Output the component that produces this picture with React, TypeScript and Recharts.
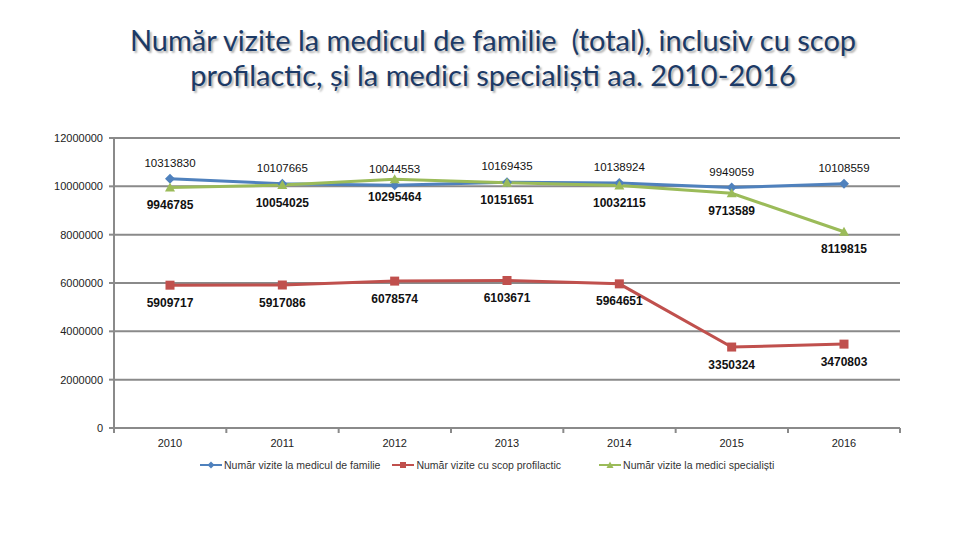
import React from 'react';
import { LineChart, Line, XAxis, YAxis, CartesianGrid, LabelList } from 'recharts';

const years = ['2010', '2011', '2012', '2013', '2014', '2015', '2016'];
const familyVisits = [10313830, 10107665, 10044553, 10169435, 10138924, 9949059, 10108559];
const preventiveVisits = [5909717, 5917086, 6078574, 6103671, 5964651, 3350324, 3470803];
const specialistVisits = [9946785, 10054025, 10295464, 10151651, 10032115, 9713589, 8119815];
const yTicks = [0, 2000000, 4000000, 6000000, 8000000, 10000000, 12000000];

const seriesNames = [
  'Număr vizite la medicul de familie',
  'Număr vizite cu scop profilactic',
  'Număr vizite la medici specialiști',
];

const colors = { blue: '#4f81bd', red: '#c0504d', green: '#9bbb59', grid: '#8a8a8a' };
const font = '"Liberation Sans", Arial, sans-serif';

const data = years.map((year, i) => ({
  year,
  family: familyVisits[i],
  preventive: preventiveVisits[i],
  specialist: specialistVisits[i],
}));

const HALF_BAND = 56;

const XTick = (props: any) => {
  const { x, y, payload, index } = props;
  const last = index === years.length - 1;
  return (
    <g>
      <line x1={x - HALF_BAND} x2={x - HALF_BAND} y1={y - 11} y2={y - 6} stroke={colors.grid} strokeWidth={2} />
      {last && <line x1={x + HALF_BAND} x2={x + HALF_BAND} y1={y - 11} y2={y - 6} stroke={colors.grid} strokeWidth={2} />}
      <text x={x} y={y} dy="0.71em" textAnchor="middle" fontSize={11} fontFamily={font} fill="#222">
        {payload.value}
      </text>
    </g>
  );
};

const Diamond = (props: any) => {
  const { cx, cy } = props;
  if (cx == null || cy == null) return null;
  return <path d={`M${cx},${cy - 5}L${cx + 5},${cy}L${cx},${cy + 5}L${cx - 5},${cy}Z`} fill={colors.blue} />;
};

const Square = (props: any) => {
  const { cx, cy } = props;
  if (cx == null || cy == null) return null;
  return <rect x={cx - 4.5} y={cy - 4.5} width={9} height={9} fill={colors.red} />;
};

const Triangle = (props: any) => {
  const { cx, cy } = props;
  if (cx == null || cy == null) return null;
  return <path d={`M${cx},${cy - 5}L${cx + 5},${cy + 4}L${cx - 5},${cy + 4}Z`} fill={colors.green} />;
};

const LegendIcon = ({ color, shape }: { color: string; shape: string }) => (
  <svg width={22} height={10} style={{ marginRight: 2 }}>
    <line x1={0} x2={22} y1={5} y2={5} stroke={color} strokeWidth={2} />
    {shape === 'diamond' && <path d="M11,1.5L14.5,5L11,8.5L7.5,5Z" fill={color} />}
    {shape === 'square' && <rect x={8} y={2} width={6} height={6} fill={color} />}
    {shape === 'triangle' && <path d="M11,1.5L14.5,8L7.5,8Z" fill={color} />}
  </svg>
);

const legendItems = [
  { name: seriesNames[0], color: colors.blue, shape: 'diamond' },
  { name: seriesNames[1], color: colors.red, shape: 'square' },
  { name: seriesNames[2], color: colors.green, shape: 'triangle' },
];

const App: React.FC = () => (
  <div style={{ position: 'absolute', left: 0, top: 0, width: 960, height: 540, background: '#fff' }}>
    <div
      style={{
        position: 'absolute',
        left: 0,
        top: 22,
        width: 986,
        textAlign: 'center',
        fontFamily: 'Lato, sans-serif',
        fontSize: 29,
        lineHeight: '35px',
        color: '#1c3a66',
        textShadow: '2px 2px 2px rgba(0,0,0,0.3)',
      }}
    >
      Număr vizite la medicul de familie&nbsp; (total), inclusiv cu scop
      <br />
      profilactic, și la medici specialiști aa. 2010-2016
    </div>
    <div style={{ position: 'absolute', left: 0, top: 0 }}>
      <LineChart width={960} height={540} data={data} margin={{ top: 138, right: 60, bottom: 82, left: 0 }}>
        <CartesianGrid vertical={false} stroke={colors.grid} strokeWidth={2} />
        <XAxis
          dataKey="year"
          padding={{ left: HALF_BAND, right: HALF_BAND }}
          axisLine={{ stroke: colors.grid, strokeWidth: 2 }}
          tickLine={false}
          tickSize={5}
          tickMargin={6}
          height={30}
          tick={<XTick />}
          interval={0}
        />
        <YAxis
          width={114}
          domain={[0, 12000000]}
          ticks={yTicks}
          interval={0}
          axisLine={{ stroke: colors.grid, strokeWidth: 2 }}
          tickLine={{ stroke: colors.grid, strokeWidth: 2 }}
          tickSize={5}
          tickMargin={6}
          tick={{ fontSize: 11, fontFamily: font, fill: '#222' }}
        />
        <Line
          type="linear"
          dataKey="family"
          name={seriesNames[0]}
          stroke={colors.blue}
          strokeWidth={3}
          dot={<Diamond />}
          isAnimationActive={false}
        >
          <LabelList dataKey="family" position="top" offset={12} fontSize={11.5} fontFamily={font} fill="#111" />
        </Line>
        <Line
          type="linear"
          dataKey="preventive"
          name={seriesNames[1]}
          stroke={colors.red}
          strokeWidth={3}
          dot={<Square />}
          isAnimationActive={false}
        >
          <LabelList dataKey="preventive" position="bottom" offset={13} fontSize={12} fontWeight="bold" fontFamily={font} fill="#111" />
        </Line>
        <Line
          type="linear"
          dataKey="specialist"
          name={seriesNames[2]}
          stroke={colors.green}
          strokeWidth={3}
          dot={<Triangle />}
          isAnimationActive={false}
        >
          <LabelList dataKey="specialist" position="bottom" offset={13} fontSize={12} fontWeight="bold" fontFamily={font} fill="#111" />
        </Line>
      </LineChart>
    </div>
    <div
      style={{
        position: 'absolute',
        left: 200,
        top: 459,
        display: 'flex',
        alignItems: 'center',
        fontFamily: font,
        fontSize: 10.5,
        color: '#333',
      }}
    >
      {legendItems.map((item, i) => (
        <div key={item.name} style={{ display: 'flex', alignItems: 'center', marginRight: i === 0 ? 12 : 38 }}>
          <LegendIcon color={item.color} shape={item.shape} />
          <span>{item.name}</span>
        </div>
      ))}
    </div>
  </div>
);

export default App;
